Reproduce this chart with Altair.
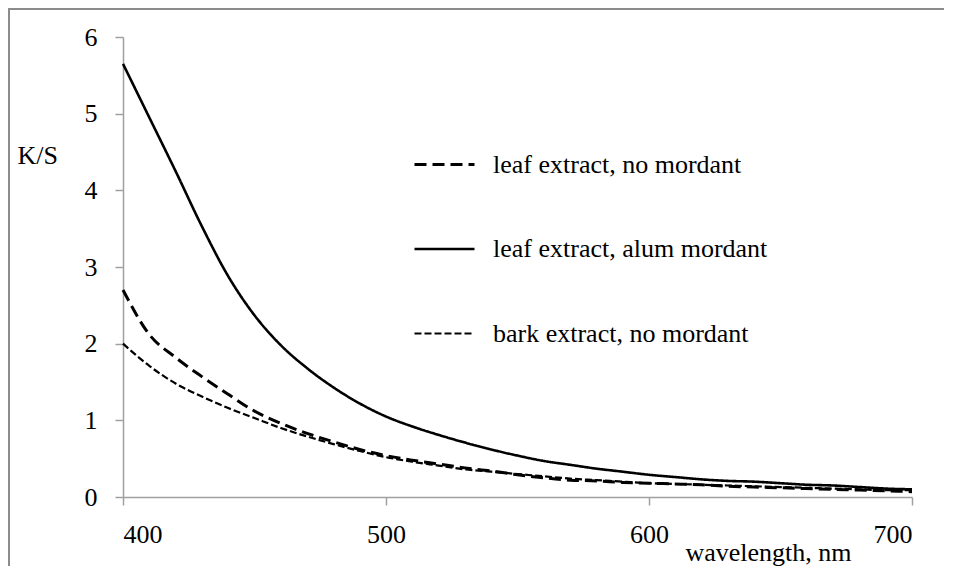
import altair as alt
import pandas as pd

wavelength = [400, 410, 420, 430, 440, 450, 460, 470, 480, 490, 500, 510, 520, 530, 540, 550,
              560, 570, 580, 590, 600, 610, 620, 630, 640, 650, 660, 670, 680, 690, 700]

leaf_no_mordant = [2.70, 2.12, 1.82, 1.57, 1.34, 1.12, 0.96, 0.83, 0.72, 0.62, 0.54, 0.48, 0.43,
                   0.38, 0.34, 0.29, 0.25, 0.22, 0.21, 0.19, 0.18, 0.17, 0.16, 0.14, 0.13, 0.12,
                   0.11, 0.10, 0.09, 0.08, 0.07]
leaf_alum_mordant = [5.65, 4.95, 4.25, 3.53, 2.88, 2.37, 1.98, 1.68, 1.43, 1.22, 1.05, 0.92, 0.81,
                     0.71, 0.62, 0.54, 0.47, 0.42, 0.37, 0.33, 0.29, 0.26, 0.23, 0.21, 0.20, 0.18,
                     0.16, 0.15, 0.13, 0.11, 0.10]
bark_no_mordant = [2.00, 1.71, 1.48, 1.31, 1.16, 1.03, 0.90, 0.79, 0.69, 0.60, 0.52, 0.46, 0.41,
                   0.36, 0.33, 0.30, 0.27, 0.24, 0.22, 0.20, 0.18, 0.17, 0.16, 0.15, 0.14, 0.13,
                   0.12, 0.11, 0.10, 0.09, 0.09]

series_names = ["leaf extract, no mordant", "leaf extract, alum mordant", "bark extract, no mordant"]
series_values = [leaf_no_mordant, leaf_alum_mordant, bark_no_mordant]
x_ticks = [400, 500, 600, 700]
y_ticks = [0, 1, 2, 3, 4, 5, 6]

rows = []
for name, vals in zip(series_names, series_values):
    for w, v in zip(wavelength, vals):
        rows.append({"wavelength": w, "ks": v, "series": name})
df = pd.DataFrame(rows)

FONT = "Liberation Serif"
AXIS_GRAY = "#a0a0a0"
FS = 26

lines = alt.Chart(df).mark_line(color="black", interpolate="monotone").encode(
    x=alt.X("wavelength:Q",
            scale=alt.Scale(domain=[400, 700], nice=False, zero=False),
            axis=alt.Axis(values=x_ticks, title="wavelength, nm", titleAngle=0,
                          titleAlign="left", titleBaseline="alphabetic",
                          titleX=562, titleY=63, labelPadding=16)),
    y=alt.Y("ks:Q",
            scale=alt.Scale(domain=[0, 6], nice=False),
            axis=alt.Axis(values=y_ticks, title="K/S", titleAngle=0,
                          titleAlign="left", titleBaseline="alphabetic",
                          titleX=-106, titleY=126, labelPadding=18)),
    strokeDash=alt.StrokeDash("series:N",
                              scale=alt.Scale(domain=series_names,
                                              range=[[12, 6], [1, 0], [7, 3]]),
                              legend=alt.Legend(title=None, orient="none", legendX=290,
                                                legendY=96, symbolType="stroke",
                                                symbolSize=3600, symbolStrokeWidth=2.6,
                                                symbolStrokeColor="black", labelOffset=17,
                                                rowPadding=39.5, padding=0,
                                                labelFontSize=FS, labelFont=FONT,
                                                labelColor="black", labelLimit=400)),
    strokeWidth=alt.StrokeWidth("series:N",
                                scale=alt.Scale(domain=series_names, range=[3.0, 2.2, 3.0]),
                                legend=None),
    order=alt.Order("wavelength:Q"),
)

frame_data = alt.Data(values=[{"f": 1}])
frame_top = alt.Chart(frame_data).mark_rect(color="#8c8c8c", strokeWidth=0).encode(
    x=alt.value(-115), x2=alt.value(821), y=alt.value(-29), y2=alt.value(-27)
)
frame_left = alt.Chart(frame_data).mark_rect(color="#8c8c8c", strokeWidth=0).encode(
    x=alt.value(-115), x2=alt.value(-113), y=alt.value(-29), y2=alt.value(529)
)

chart = alt.layer(frame_top, frame_left, lines).properties(
    width=789, height=460,
    autosize=alt.AutoSizeParams(type="none"),
    padding={"left": 115, "top": 29, "right": 32, "bottom": 69},
).configure_view(stroke=None).configure_axis(
    grid=False, domainColor=AXIS_GRAY, tickColor=AXIS_GRAY, domainWidth=1.5,
    tickWidth=1.5, tickSize=8, labelFont=FONT, titleFont=FONT, labelFontSize=FS,
    titleFontSize=FS, labelColor="black", titleColor="black", titleFontWeight="normal",
)

chart.save("out.html", embed_options={"renderer": "svg", "actions": False})
